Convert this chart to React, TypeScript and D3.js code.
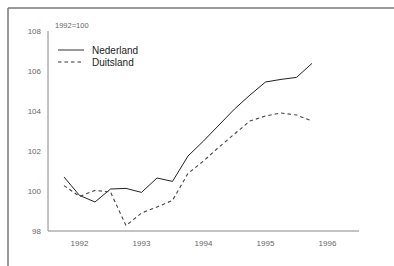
import { useEffect, useRef } from "react";
import * as d3 from "d3";

// quarterly index values, 1991 Q4 .. 1995 Q4 (1992=100)
const quarters = [
  1991.75, 1992, 1992.25, 1992.5, 1992.75, 1993, 1993.25, 1993.5, 1993.75,
  1994, 1994.25, 1994.5, 1994.75, 1995, 1995.25, 1995.5, 1995.75,
];
const nederland = [
  100.7, 99.78, 99.45, 100.1, 100.13, 99.93, 100.65, 100.48, 101.75,
  102.5, 103.3, 104.1, 104.8, 105.45, 105.58, 105.68, 106.38,
];
const duitsland = [
  100.27, 99.73, 100.03, 99.95, 98.27, 98.9, 99.2, 99.53, 100.88,
  101.5, 102.2, 102.85, 103.5, 103.75, 103.9, 103.8, 103.5,
];
const yearTicks = [1992, 1993, 1994, 1995, 1996];
const valueTicks = [98, 100, 102, 104, 106, 108];

const W = 394;
const H = 266;
const FONT = "Liberation Sans, Arial, sans-serif";

export default function App() {
  const svgRef = useRef<SVGSVGElement>(null);

  useEffect(() => {
    const svg = d3.select(svgRef.current);
    svg.selectAll("*").remove();

    const x = d3.scaleLinear().domain([1992, 1996]).range([79.5, 327.5]);
    const y = d3.scaleLinear().domain([98, 108]).range([231, 31]);

    // frame (only top and left edges visible)
    svg.append("line").attr("x1", 8).attr("x2", W).attr("y1", 8).attr("y2", 8)
      .attr("stroke", "#777").attr("stroke-width", 1.5);
    svg.append("line").attr("x1", 8).attr("x2", 8).attr("y1", 8).attr("y2", H)
      .attr("stroke", "#777").attr("stroke-width", 1.5);

    // axes
    svg.append("line").attr("x1", 48).attr("x2", 48).attr("y1", y(108)).attr("y2", y(98))
      .attr("stroke", "#888").attr("stroke-width", 1);
    svg.append("line").attr("x1", 48).attr("x2", 359).attr("y1", y(98)).attr("y2", y(98))
      .attr("stroke", "#888").attr("stroke-width", 1);

    svg.append("g").selectAll("text").data(valueTicks).enter().append("text")
      .attr("x", 41).attr("y", (d) => y(d)).attr("dy", "0.35em")
      .attr("text-anchor", "end").attr("font-size", 8).attr("fill", "#666")
      .attr("font-family", FONT)
      .text((d) => d);

    svg.append("g").selectAll("text").data(yearTicks).enter().append("text")
      .attr("x", (d) => x(d)).attr("y", 243).attr("dy", "0.35em")
      .attr("text-anchor", "middle").attr("font-size", 8).attr("fill", "#666")
      .attr("font-family", FONT)
      .text((d) => d);

    svg.append("text").attr("x", 55).attr("y", 28).attr("font-size", 7.5)
      .attr("fill", "#666").attr("font-family", FONT)
      .text("1992=100");

    const line = d3.line<number>()
      .x((_, i) => x(quarters[i]))
      .y((d) => y(d));

    svg.append("path").datum(nederland).attr("d", line)
      .attr("fill", "none").attr("stroke", "#222").attr("stroke-width", 1);
    svg.append("path").datum(duitsland).attr("d", line)
      .attr("fill", "none").attr("stroke", "#444").attr("stroke-width", 1.1)
      .attr("stroke-dasharray", "3.5,3");

    // legend
    const legend = [
      { name: "Nederland", dash: null, yy: 50 },
      { name: "Duitsland", dash: "3.5,3", yy: 62 },
    ];
    legend.forEach((l) => {
      svg.append("line").attr("x1", 58).attr("x2", 84).attr("y1", l.yy).attr("y2", l.yy)
        .attr("stroke", "#333").attr("stroke-width", 1)
        .attr("stroke-dasharray", l.dash);
      svg.append("text").attr("x", 92).attr("y", l.yy).attr("dy", "0.35em")
        .attr("font-size", 10).attr("fill", "#222")
        .attr("font-family", FONT)
        .text(l.name);
    });
  }, []);

  return (
    <svg
      ref={svgRef}
      width={W}
      height={H}
      style={{ position: "absolute", left: 0, top: 0, background: "#fff" }}
    />
  );
}
